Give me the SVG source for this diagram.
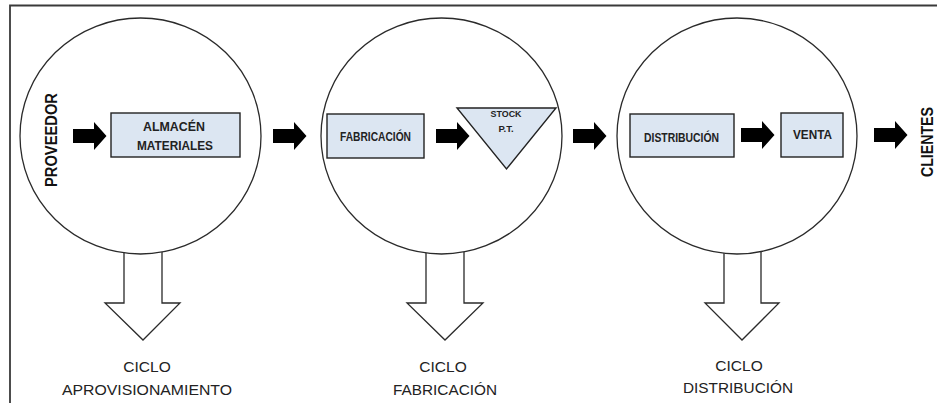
<svg xmlns="http://www.w3.org/2000/svg" width="937" height="403" viewBox="0 0 937 403">
  <defs>
    <style>
      .frame { fill: none; stroke: #3a3a3a; stroke-width: 1.8; }
      .cycle { fill: #ffffff; stroke: #2a2a2a; stroke-width: 1.3; }
      .hollow { fill: #ffffff; stroke: #2a2a2a; stroke-width: 1.3; stroke-linejoin: miter; }
      .box { fill: #dce6f2; stroke: #222222; stroke-width: 1.4; }
      .flow { fill: #000000; }
      .lbl { font-family: "Liberation Sans", Arial, sans-serif; font-weight: bold; fill: #222222; text-anchor: middle; }
      .side { font-family: "Liberation Sans", Arial, sans-serif; font-weight: bold; fill: #111111; text-anchor: middle; }
      .caption { font-family: "Liberation Sans", Arial, sans-serif; font-size: 15.5px; fill: #222222; text-anchor: middle; }
    </style>
    <!-- solid block arrow, 33 long, 28 tall, origin at left/middle -->
    <path id="block-arrow" d="M0,-7 H21 V-14 L33.5,0 L21,14 V7 H0 Z"/>
  </defs>

  <!-- outer frame (left and top edges only) -->
  <path class="frame" d="M10,403 V5.5 H937"/>

  <!-- downward outline arrows under each cycle -->
  <g id="cycle-arrows">
    <polygon class="hollow" points="124,250 162,250 162,303 180,303 143,340 105,303 124,303"/>
    <polygon class="hollow" points="426,250 464,250 464,303 483,303 445,340 407,303 426,303"/>
    <polygon class="hollow" points="724,250 761,250 761,303 779,303 742,340 705,303 724,303"/>
  </g>

  <!-- cycle circles -->
  <g id="cycle-aprovisionamiento">
    <ellipse class="cycle" cx="140.5" cy="136" rx="120.5" ry="118"/>
  </g>
  <g id="cycle-fabricacion">
    <ellipse class="cycle" cx="441.5" cy="136" rx="120.5" ry="118"/>
  </g>
  <g id="cycle-distribucion">
    <ellipse class="cycle" cx="737" cy="136" rx="120" ry="118"/>
  </g>

  <!-- side labels -->
  <g id="proveedor">
    <text class="side" font-size="16" textLength="94" lengthAdjust="spacingAndGlyphs" transform="translate(56.5,140) rotate(-90)">PROVEEDOR</text>
  </g>
  <g id="clientes">
    <text class="side" font-size="16" textLength="70" lengthAdjust="spacingAndGlyphs" transform="translate(932.5,142) rotate(-90)">CLIENTES</text>
  </g>

  <!-- process nodes -->
  <g id="almacen-materiales">
    <rect class="box" x="111" y="113" width="129" height="44"/>
    <text class="lbl" font-size="12" x="174" y="131" textLength="62" lengthAdjust="spacingAndGlyphs">ALMACÉN</text>
    <text class="lbl" font-size="12" x="175" y="150" textLength="76" lengthAdjust="spacingAndGlyphs">MATERIALES</text>
  </g>
  <g id="fabricacion">
    <rect class="box" x="327" y="114" width="97" height="44"/>
    <text class="lbl" font-size="12" x="375.5" y="141" textLength="71" lengthAdjust="spacingAndGlyphs">FABRICACIÓN</text>
  </g>
  <g id="stock-pt">
    <polygon class="box" points="457,108 556,108 506.5,169"/>
    <text class="lbl" font-size="9.5" x="506" y="117" textLength="31" lengthAdjust="spacingAndGlyphs">STOCK</text>
    <text class="lbl" font-size="9.5" x="506" y="132">P.T.</text>
  </g>
  <g id="distribucion">
    <rect class="box" x="630" y="114" width="104" height="43"/>
    <text class="lbl" font-size="12" x="681.5" y="141.5" textLength="75" lengthAdjust="spacingAndGlyphs">DISTRIBUCIÓN</text>
  </g>
  <g id="venta">
    <rect class="box" x="781" y="113" width="62" height="44"/>
    <text class="lbl" font-size="12" x="812.5" y="139" textLength="39" lengthAdjust="spacingAndGlyphs">VENTA</text>
  </g>

  <!-- flow connectors -->
  <g id="connectors">
    <use href="#block-arrow" class="flow" x="73" y="136"/>
    <use href="#block-arrow" class="flow" x="273" y="136"/>
    <use href="#block-arrow" class="flow" x="436" y="136"/>
    <use href="#block-arrow" class="flow" x="573" y="136"/>
    <use href="#block-arrow" class="flow" x="741" y="135"/>
    <use href="#block-arrow" class="flow" x="874" y="135"/>
  </g>

  <!-- cycle captions -->
  <g id="captions">
    <text class="caption" x="147" y="372">CICLO</text>
    <text class="caption" x="147" y="395" textLength="170" lengthAdjust="spacingAndGlyphs">APROVISIONAMIENTO</text>
    <text class="caption" x="443" y="372">CICLO</text>
    <text class="caption" x="445" y="395" textLength="104" lengthAdjust="spacingAndGlyphs">FABRICACIÓN</text>
    <text class="caption" x="739" y="371">CICLO</text>
    <text class="caption" x="738" y="393" textLength="110" lengthAdjust="spacingAndGlyphs">DISTRIBUCIÓN</text>
  </g>
</svg>
